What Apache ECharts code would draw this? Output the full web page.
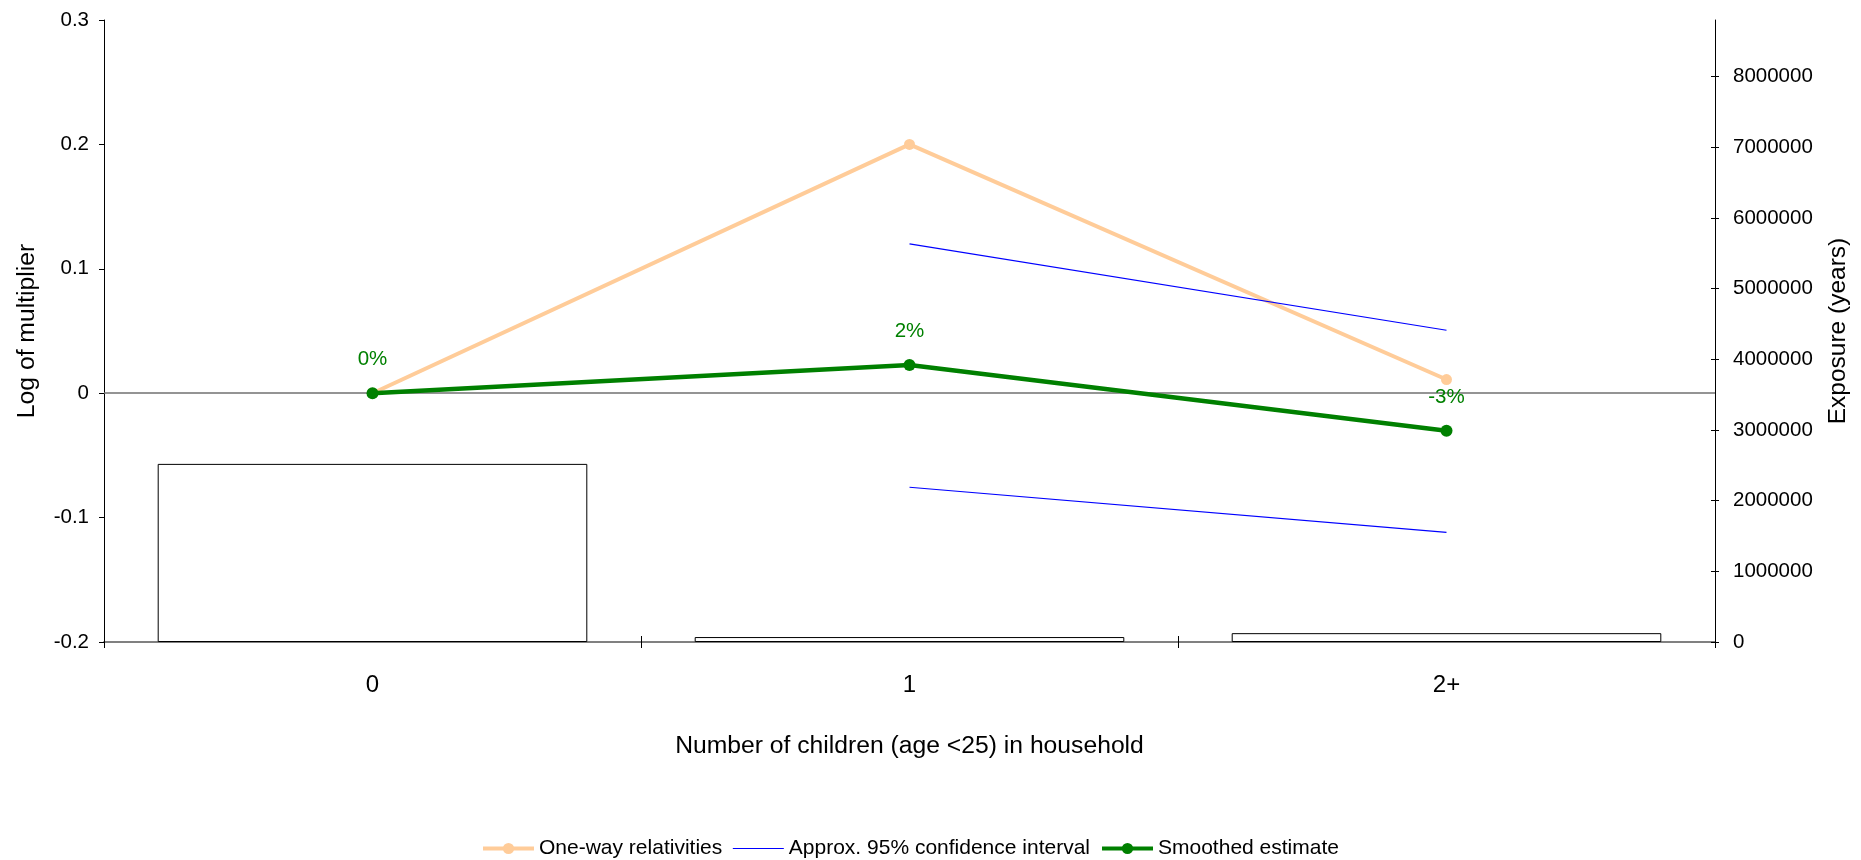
<!DOCTYPE html>
<html>
<head>
<meta charset="utf-8">
<script src="https://cdn.jsdelivr.net/npm/echarts@6/dist/echarts.min.js"></script>
<style>
html,body{margin:0;padding:0;background:#fff;}
#chart{width:1861px;height:860px;}
</style>
</head>
<body>
<div id="chart"></div>
<script>
var categories = ['0', '1', '2+'];
var oneWayRelativities = [0, 0.2, 0.011];
var ciUpper = [null, 0.12, 0.0506];
var ciLower = [null, -0.0756, -0.1118];
var smoothedEstimate = [0, 0.0227, -0.0302];
var smoothedLabels = ['0%', '2%', '-3%'];
var exposure = [2520000, 70000, 125000];
var leftTicks = [-0.2, -0.1, 0, 0.1, 0.2, 0.3];
var rightTicks = [0, 1000000, 2000000, 3000000, 4000000, 5000000, 6000000, 7000000, 8000000];

var FONT = "'Liberation Sans', Arial, sans-serif";
var chart = echarts.init(document.getElementById('chart'), null, {renderer: 'canvas'});

var option = {
  backgroundColor: '#ffffff',
  animation: false,
  textStyle: {fontFamily: FONT, color: '#000'},
  grid: {left: 104, right: 146, top: 20, bottom: 218, containLabel: false, outerBoundsMode: 'none'},
  legend: {
    left: 476, top: 833,
    itemWidth: 51, itemHeight: 14, itemGap: 10,
    textStyle: {fontFamily: FONT, fontSize: 21, color: '#000'},
    data: [
      {name: 'One-way relativities', lineStyle: {width: 4}},
      {name: 'Approx. 95% confidence interval', itemStyle: {opacity: 0}, lineStyle: {width: 1.2}},
      {name: 'Smoothed estimate', lineStyle: {width: 4}}
    ]
  },
  xAxis: [
    {
      type: 'category', data: categories, position: 'bottom',
      boundaryGap: true,
      name: 'Number of children (age <25) in household',
      nameLocation: 'middle', nameGap: 92,
      nameTextStyle: {fontFamily: FONT, fontSize: 24.7, color: '#000'},
      axisLine: {onZero: false, lineStyle: {color: '#808080', width: 2}},
      axisTick: {show: true, inside: false, length: 6, alignWithLabel: false, lineStyle: {color: '#000', width: 1}},
      axisLabel: {fontFamily: FONT, fontSize: 24, color: '#000', margin: 31},
      splitLine: {show: false}
    },
    {
      type: 'category', data: categories, position: 'bottom',
      boundaryGap: true,
      axisLine: {show: false, onZero: false},
      axisTick: {show: true, inside: true, length: 6, lineStyle: {color: '#000', width: 1}},
      axisLabel: {show: false},
      splitLine: {show: false}
    }
  ],
  yAxis: [
    {
      type: 'value', position: 'left', min: -0.2, max: 0.3, interval: 0.1,
      name: 'Log of multiplier', nameLocation: 'middle', nameGap: 64,
      nameTextStyle: {fontFamily: FONT, fontSize: 24.7, color: '#000'},
      axisLine: {show: true, lineStyle: {color: '#000', width: 1}},
      axisTick: {show: true, inside: false, length: 5, lineStyle: {color: '#000'}},
      axisLabel: {fontFamily: FONT, fontSize: 20.5, color: '#000', margin: 15,
        formatter: function (v) { return String(Math.round(v * 10) / 10); }},
      splitLine: {show: false}
    },
    {
      type: 'value', position: 'right', min: 0, max: 8800000,
      name: 'Exposure (years)', nameLocation: 'middle', nameGap: 111,
      nameTextStyle: {fontFamily: FONT, fontSize: 24.5, color: '#000'},
      axisLine: {show: true, lineStyle: {color: '#000', width: 1}},
      axisTick: {show: true, inside: false, length: 4, customValues: rightTicks, lineStyle: {color: '#000'}},
      axisLabel: {fontFamily: FONT, fontSize: 20.5, color: '#000', margin: 18, customValues: rightTicks,
        formatter: function (v) { return String(v); }},
      splitLine: {show: false}
    },
    {
      type: 'value', position: 'right', min: 0, max: 8800000,
      axisLine: {show: false},
      axisTick: {show: true, inside: true, length: 4, customValues: rightTicks, lineStyle: {color: '#000'}},
      axisLabel: {show: false},
      splitLine: {show: false}
    }
  ],
  series: [
    {
      name: 'Exposure', type: 'bar', xAxisIndex: 0, yAxisIndex: 1,
      data: exposure, barWidth: '80%',
      itemStyle: {color: '#ffffff', borderColor: '#000', borderWidth: 1},
      z: 1
    },
    {
      name: 'zero', type: 'line', xAxisIndex: 1, yAxisIndex: 0, data: [],
      markLine: {
        silent: true, symbol: ['none', 'none'], label: {show: false},
        lineStyle: {color: '#707070', width: 1.5, type: 'solid'},
        data: [{yAxis: 0}]
      },
      z: 2
    },
    {
      name: 'One-way relativities', type: 'line', xAxisIndex: 0, yAxisIndex: 0,
      data: oneWayRelativities,
      color: '#FFCC99',
      lineStyle: {color: '#FFCC99', width: 4},
      itemStyle: {color: '#FFCC99'},
      symbol: 'circle', symbolSize: 11, showSymbol: true,
      z: 3
    },
    {
      name: 'Approx. 95% confidence interval', type: 'line', xAxisIndex: 0, yAxisIndex: 0,
      data: ciUpper, connectNulls: false,
      color: '#0000FF',
      lineStyle: {color: '#0000FF', width: 1.2},
      symbol: 'none', z: 4
    },
    {
      name: 'Approx. 95% confidence interval', type: 'line', xAxisIndex: 0, yAxisIndex: 0,
      data: ciLower, connectNulls: false,
      color: '#0000FF',
      lineStyle: {color: '#0000FF', width: 1.2},
      symbol: 'none', z: 4
    },
    {
      name: 'Smoothed estimate', type: 'line', xAxisIndex: 0, yAxisIndex: 0,
      data: smoothedEstimate,
      color: '#008000',
      lineStyle: {color: '#008000', width: 4.5},
      itemStyle: {color: '#008000'},
      symbol: 'circle', symbolSize: 12, showSymbol: true,
      label: {
        show: true, position: 'top', distance: 17,
        fontFamily: FONT, fontSize: 20.5, color: '#008000',
        formatter: function (p) { return smoothedLabels[p.dataIndex]; }
      },
      z: 5
    }
  ]
};
chart.setOption(option);
</script>
</body>
</html>
